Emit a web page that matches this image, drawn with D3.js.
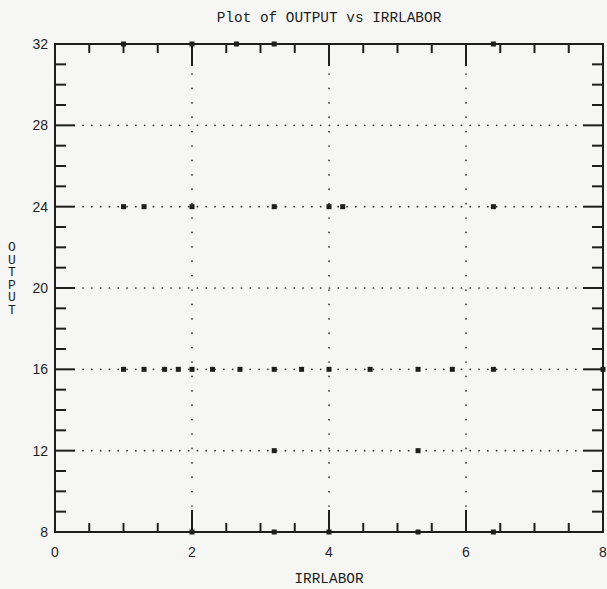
<!DOCTYPE html>
<html>
<head>
<meta charset="utf-8">
<script src="https://cdn.jsdelivr.net/npm/d3@7"></script>
<style>
  html, body { margin: 0; padding: 0; background: #f6f6f5; }
  svg { display: block; }
</style>
</head>
<body>
<svg id="chart"></svg>
<script>
// values: one array per OUTPUT level
const row32 = [1.0, 2.0, 2.65, 3.2, 6.4];
const row24 = [1.0, 1.3, 2.0, 3.2, 4.0, 4.2, 6.4];
const row16 = [1.0, 1.3, 1.6, 1.8, 2.0, 2.3, 2.7, 3.2, 3.6, 4.0, 4.6, 5.3, 5.8, 6.4, 8.0];
const row12 = [3.2, 5.3];
const row8 = [2.0, 3.2, 4.0, 5.3, 6.4];

const xTickLabels = [0, 2, 4, 6, 8];
const yTickLabels = [8, 12, 16, 20, 24, 28, 32];

const points = [
	...row32.map(v => ({ x: v, y: 32 })),
	...row24.map(v => ({ x: v, y: 24 })),
	...row16.map(v => ({ x: v, y: 16 })),
	...row12.map(v => ({ x: v, y: 12 })),
	...row8.map(v => ({ x: v, y: 8 })),
];

const width = 607,
	height = 589,
	plotLeft = 55,
	plotRight = 603,
	plotTop = 44,
	plotBottom = 532,
	ink = "#1e1e1e";

const x = d3.scaleLinear().domain([0, 8]).range([plotLeft, plotRight]);
const y = d3.scaleLinear().domain([8, 32]).range([plotBottom, plotTop]);

const svg = d3.select("#chart").attr("width", width).attr("height", height);

// dotted grid, majors only
svg.append("g")
	.selectAll("line")
	.data(yTickLabels.filter(d => d > 8 && d < 32))
	.enter()
	.append("line")
	.attr("x1", plotLeft + 28)
	.attr("x2", plotRight - 20)
	.attr("y1", d => y(d))
	.attr("y2", d => y(d))
	.attr("stroke", "#333")
	.attr("stroke-width", 1.7)
	.attr("stroke-linecap", "round")
	.attr("stroke-dasharray", "0.1,8.7");

svg.append("g")
	.selectAll("line")
	.data(xTickLabels.filter(d => d > 0 && d < 8))
	.enter()
	.append("line")
	.attr("x1", d => x(d))
	.attr("x2", d => x(d))
	.attr("y1", plotTop + 30)
	.attr("y2", plotBottom - 22)
	.attr("stroke", "#333")
	.attr("stroke-width", 1.7)
	.attr("stroke-linecap", "round")
	.attr("stroke-dasharray", "0.1,14.3");

// frame
svg.append("rect")
	.attr("x", plotLeft)
	.attr("y", plotTop)
	.attr("width", plotRight - plotLeft)
	.attr("height", plotBottom - plotTop)
	.attr("fill", "none")
	.attr("stroke", ink)
	.attr("stroke-width", 2);

// inward ticks
const ticks = svg.append("g").attr("stroke", ink).attr("stroke-width", 2);

const xTicks = x.ticks(16).filter(d => d > 0 && d < 8);
const xLen = d => (d % 2 === 0 ? 22 : 9);
ticks.selectAll(".xb")
	.data(xTicks)
	.enter()
	.append("line")
	.attr("x1", d => x(d))
	.attr("x2", d => x(d))
	.attr("y1", plotBottom)
	.attr("y2", d => plotBottom - xLen(d));
ticks.selectAll(".xt")
	.data(xTicks)
	.enter()
	.append("line")
	.attr("x1", d => x(d))
	.attr("x2", d => x(d))
	.attr("y1", plotTop)
	.attr("y2", d => plotTop + xLen(d));

const yTicks = y.ticks(24).filter(d => d > 8 && d < 32);
const yLen = d => (d % 4 === 0 ? 20 : 11);
ticks.selectAll(".yl")
	.data(yTicks)
	.enter()
	.append("line")
	.attr("x1", plotLeft)
	.attr("x2", d => plotLeft + yLen(d))
	.attr("y1", d => y(d))
	.attr("y2", d => y(d));
ticks.selectAll(".yr")
	.data(yTicks)
	.enter()
	.append("line")
	.attr("x1", plotRight)
	.attr("x2", d => plotRight - yLen(d))
	.attr("y1", d => y(d))
	.attr("y2", d => y(d));

// tick labels
svg.append("g")
	.selectAll("text")
	.data(yTickLabels)
	.enter()
	.append("text")
	.attr("x", plotLeft - 7)
	.attr("y", d => y(d) + 5)
	.attr("text-anchor", "end")
	.attr("font-family", "Liberation Sans, Arial")
	.attr("font-size", "14px")
	.attr("fill", ink)
	.text(d => d);

svg.append("g")
	.selectAll("text")
	.data(xTickLabels)
	.enter()
	.append("text")
	.attr("x", d => x(d))
	.attr("y", 557)
	.attr("text-anchor", "middle")
	.attr("font-family", "Liberation Sans, Arial")
	.attr("font-size", "14px")
	.attr("fill", ink)
	.text(d => d);

// points
svg.append("g")
	.selectAll("rect")
	.data(points)
	.enter()
	.append("rect")
	.attr("x", d => x(d.x) - 2.5)
	.attr("y", d => y(d.y) - 2.5)
	.attr("width", 5)
	.attr("height", 5)
	.attr("fill", ink);

// titles
svg.append("text")
	.attr("x", (plotLeft + plotRight) / 2)
	.attr("y", 22)
	.attr("text-anchor", "middle")
	.attr("font-family", "Liberation Mono, monospace")
	.attr("font-size", "14.4px")
	.attr("fill", ink)
	.text("Plot of OUTPUT vs IRRLABOR");

svg.append("text")
	.attr("x", (plotLeft + plotRight) / 2)
	.attr("y", 583)
	.attr("text-anchor", "middle")
	.attr("font-family", "Liberation Mono, monospace")
	.attr("font-size", "14.4px")
	.attr("fill", ink)
	.text("IRRLABOR");

// stacked y label, one text element
svg.append("text")
	.attr("x", 12)
	.attr("y", 240)
	.attr("font-family", "Liberation Mono, monospace")
	.attr("font-size", "13px")
	.attr("letter-spacing", "-2.5px")
	.style("writing-mode", "vertical-rl")
	.style("text-orientation", "upright")
	.attr("fill", ink)
	.text("OUTPUT");
</script>
</body>
</html>
